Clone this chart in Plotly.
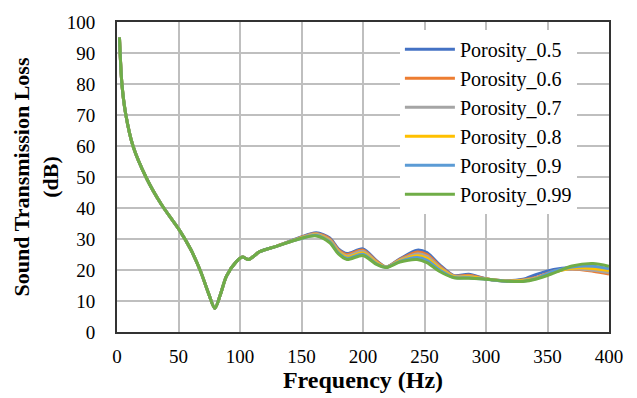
import plotly.graph_objects as go

freq = [2, 4, 7, 13, 24, 36, 51, 60, 68, 75, 79.5, 84, 89, 97, 102, 107, 116, 130,
        148, 162, 173, 180, 187, 200, 211, 219, 230, 244, 252, 262, 274, 286, 300, 317, 330, 341, 355, 370, 387, 400]

low_common = [95, 80, 70.5, 60, 49.6, 41.2, 32.7, 26.6, 19.5, 11.8, 7.6, 12, 18, 22.7, 24.2, 23.4, 25.9, 27.7]

stl_05 = low_common + [30.4, 32.0, 30.3, 26.8, 25.3, 26.8, 23.0, 21.0, 23.6, 26.4, 25.6, 21.8, 18.2, 18.6, 17.2, 16.5, 17.0, 18.6, 20.2, 20.8, 20.6, 19.9]
stl_06 = low_common + [30.3, 31.8, 30.0, 26.5, 25.0, 26.4, 22.8, 21.0, 23.4, 25.8, 25.0, 21.4, 18.1, 18.3, 17.2, 16.5, 16.8, 17.6, 19.6, 20.3, 19.6, 18.7]
stl_07 = low_common + [30.2, 31.6, 29.7, 26.2, 24.6, 26.0, 22.5, 21.0, 23.2, 25.2, 24.4, 21.0, 18.0, 18.0, 17.1, 16.5, 16.7, 17.4, 19.4, 20.4, 19.9, 19.2]
stl_08 = low_common + [30.1, 31.4, 29.4, 25.9, 24.2, 25.5, 22.3, 20.9, 23.0, 24.6, 23.8, 20.6, 17.8, 17.8, 17.1, 16.4, 16.6, 17.3, 19.3, 20.6, 20.5, 19.8]
stl_09 = low_common + [30.0, 31.2, 29.1, 25.5, 23.8, 25.1, 22.0, 20.9, 22.8, 24.0, 23.1, 20.1, 17.6, 17.5, 17.0, 16.4, 16.4, 17.2, 19.6, 21.0, 21.2, 20.4]
stl_099 = low_common + [30.0, 31.0, 28.8, 25.2, 23.4, 24.7, 21.8, 20.8, 22.6, 23.4, 22.4, 19.6, 17.5, 17.3, 17.0, 16.4, 16.3, 17.1, 19.0, 21.3, 22.1, 21.2]

names = ["Porosity_0.5", "Porosity_0.6", "Porosity_0.7", "Porosity_0.8", "Porosity_0.9", "Porosity_0.99"]
series = [stl_05, stl_06, stl_07, stl_08, stl_09, stl_099]
colors = ["#4472C4", "#ED7D31", "#A5A5A5", "#FFC000", "#5B9BD5", "#70AD47"]

x_ticks = [0, 50, 100, 150, 200, 250, 300, 350, 400]
y_ticks = [0, 10, 20, 30, 40, 50, 60, 70, 80, 90, 100]

font_family = "Liberation Serif"

fig = go.Figure()
for n, s, c in zip(names, series, colors):
    fig.add_trace(go.Scatter(x=freq, y=s, name=n, mode="lines",
                             line=dict(color=c, width=3, shape="spline", smoothing=0.8)))

fig.update_layout(
    width=637, height=398,
    margin=dict(l=117, r=28, t=17, b=65),
    paper_bgcolor="white", plot_bgcolor="white",
    font=dict(family=font_family, color="black", size=19),
    legend=dict(x=0.575, y=0.975, xanchor="left", yanchor="top",
                bgcolor="white", font=dict(size=20, family=font_family),
                tracegroupgap=0, itemwidth=50),
    xaxis=dict(range=[0, 400], tickvals=x_ticks, showgrid=True, gridcolor="#BFBFBF", gridwidth=1.5,
               showline=True, linecolor="#333333", linewidth=2, mirror=True, ticks="",
               zeroline=False, tickfont=dict(size=19), ticklabelstandoff=6,
               title=dict(text="<b>Frequency (Hz)</b>", font=dict(size=24), standoff=2)),
    yaxis=dict(range=[0, 100], tickvals=y_ticks, showgrid=True, gridcolor="#BFBFBF", gridwidth=1.5,
               showline=True, linecolor="#333333", linewidth=2, mirror=True, ticks="",
               zeroline=False, tickfont=dict(size=19), ticklabelstandoff=16,
               title=dict(text="<b>Sound Transmission Loss<br>(dB)</b>", font=dict(size=22), standoff=2)),
)

fig.write_html("out.html")
